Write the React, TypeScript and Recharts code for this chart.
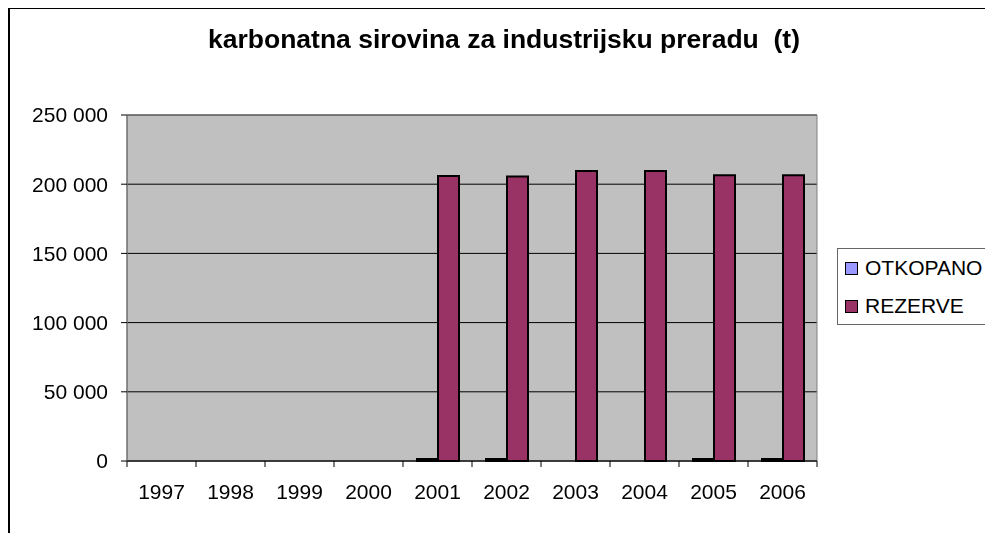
import * as React from 'react';
import { BarChart, Bar, CartesianGrid, XAxis, YAxis, ReferenceArea } from 'recharts';

const years = ['1997', '1998', '1999', '2000', '2001', '2002', '2003', '2004', '2005', '2006'];
const otkopano = [null, null, null, null, 1500, 1500, null, null, 1500, 1500];
const rezerve = [null, null, null, null, 206000, 205500, 209500, 209500, 206500, 206500];
const yTicks = [0, 50000, 100000, 150000, 200000, 250000];

const series = [
  { key: 'OTKOPANO', color: '#9999FF' },
  { key: 'REZERVE', color: '#993366' },
];

const data = years.map((y, i) => ({ name: y, OTKOPANO: otkopano[i], REZERVE: rezerve[i] }));

const W = 977;
const H = 525;
const margin = { top: 107, right: 168, bottom: 42, left: 0 };
const yAxisW = 119;
const band = (W - margin.left - margin.right - yAxisW) / years.length;
const font = '"Liberation Sans", Arial, sans-serif';

const fmt = (v: number) => String(v).replace(/\B(?=(\d{3})+(?!\d))/g, ' ');

function XTick(props: any) {
  const { x, y, payload, index } = props;
  const left = x - band / 2;
  return (
    <g>
      <line x1={left} x2={left} y1={y} y2={y + 6} stroke="#000" />
      {index === years.length - 1 && (
        <line x1={x + band / 2} x2={x + band / 2} y1={y} y2={y + 6} stroke="#000" />
      )}
      <text x={x} y={y + 38} textAnchor="middle" fontSize={21} fontFamily={font} fill="#000">
        {payload.value}
      </text>
    </g>
  );
}

// legend drawn as plain html so recharts doesn't shrink the plot for it
function LegendBox() {
  return (
    <div
      style={{
        position: 'absolute',
        left: 829,
        top: 240,
        width: 148,
        height: 77,
        boxSizing: 'border-box',
        border: '1px solid #666',
        borderRight: 'none',
        background: '#fff',
        fontFamily: font,
        fontSize: 21,
        color: '#000',
      }}
    >
      {series.map((s) => (
        <div key={s.key} style={{ display: 'flex', alignItems: 'center', height: 38, paddingLeft: 7 }}>
          <span
            style={{
              display: 'inline-block',
              flex: 'none',
              width: 11,
              height: 11,
              background: s.color,
              border: '1px solid #000',
              marginRight: 7,
            }}
          />
          <span style={{ whiteSpace: 'nowrap' }}>{s.key}</span>
        </div>
      ))}
    </div>
  );
}

export default function App() {
  // fixed so the right edge of the legend isn't clipped by the body box
  return (
    <div style={{ position: 'fixed', left: 8, top: 8, width: W, height: H, overflow: 'hidden' }}>
      <div
        style={{
          position: 'absolute',
          left: 0,
          top: -1,
          width: W,
          height: H + 1,
          boxSizing: 'border-box',
          borderTop: '2px solid #000',
          borderLeft: '2px solid #000',
        }}
      />
      <div
        style={{
          position: 'absolute',
          left: 196,
          top: 16,
          width: 600,
          textAlign: 'center',
          fontFamily: font,
          fontWeight: 'bold',
          fontSize: 26.5,
          lineHeight: '30px',
          color: '#000',
          whiteSpace: 'pre',
        }}
      >
        {'karbonatna sirovina za industrijsku preradu  (t)'}
      </div>
      <div style={{ position: 'absolute', left: 0, top: 0 }}>
        <BarChart width={W} height={H} data={data} margin={margin} barGap={0} barCategoryGap={14}>
          <CartesianGrid vertical={false} fill="#C0C0C0" stroke="#000" strokeOpacity={1} />
          <ReferenceArea y1={0} y2={250000} fill="none" stroke="#808080" strokeWidth={1} />
          <XAxis
            dataKey="name"
            tickLine={false}
            tickSize={0}
            tickMargin={0}
            tick={<XTick />}
            axisLine={{ stroke: '#000' }}
            interval={0}
          />
          <YAxis
            width={yAxisW}
            domain={[0, 250000]}
            ticks={yTicks}
            tickFormatter={fmt}
            tickSize={6}
            tickMargin={13}
            tickLine={{ stroke: '#000' }}
            axisLine={{ stroke: '#666' }}
            tick={{ fontSize: 21, fontFamily: font, fill: '#000' }}
          />
          {series.map((s) => (
            <Bar
              key={s.key}
              dataKey={s.key}
              fill={s.color}
              stroke="#000"
              strokeWidth={2}
              isAnimationActive={false}
            />
          ))}
        </BarChart>
      </div>
      <LegendBox />
    </div>
  );
}
